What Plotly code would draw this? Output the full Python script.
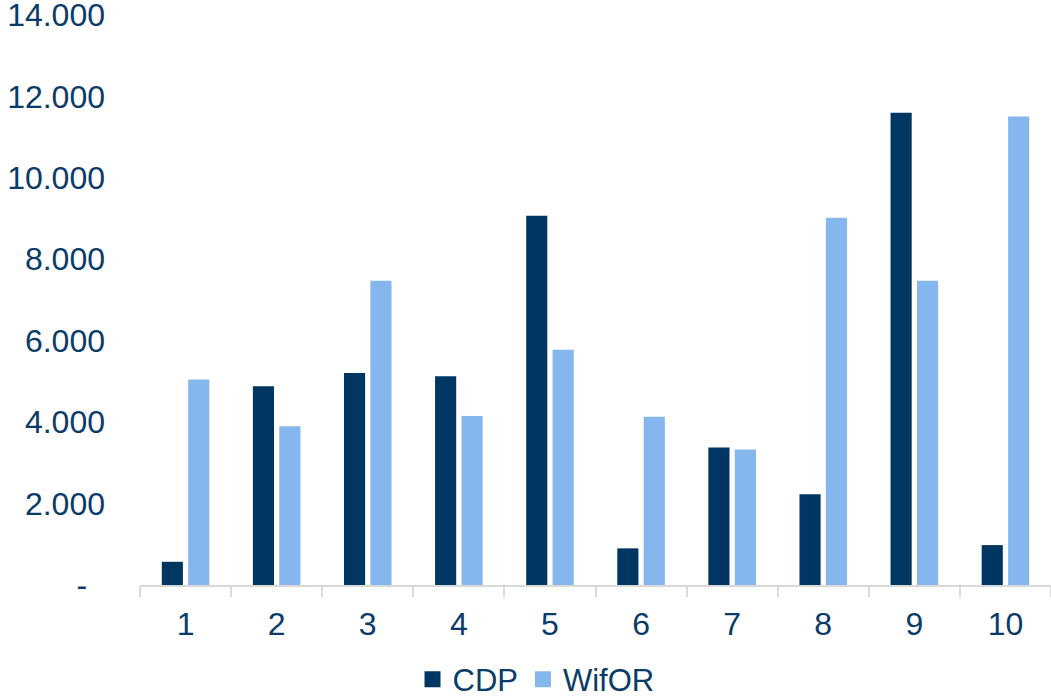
import plotly.graph_objects as go

# Category labels and series values
categories = ["1", "2", "3", "4", "5", "6", "7", "8", "9", "10"]
cdp = [570, 4880, 5210, 5130, 9070, 900, 3380, 2230, 11600, 980]
wifor = [5050, 3900, 7470, 4150, 5780, 4130, 3330, 9020, 7470, 11510]

y_ticks = [0, 2000, 4000, 6000, 8000, 10000, 12000, 14000]
y_tick_text = ["-\u00a0\u00a0", "2.000", "4.000", "6.000", "8.000", "10.000", "12.000", "14.000"]

DARK = "#003662"
LIGHT = "#85B6ED"
TEXT = "#0B3B68"
FONT = "Arial, Liberation Sans, sans-serif"

fig = go.Figure()
fig.add_trace(go.Bar(x=categories, y=cdp, name="CDP", marker_color=DARK,
                     marker_line_width=0, showlegend=False))
fig.add_trace(go.Bar(x=categories, y=wifor, name="WifOR", marker_color=LIGHT,
                     marker_line_width=0, showlegend=False))

# Legend entries with larger square swatches
for name, col in [("CDP", DARK), ("WifOR", LIGHT)]:
    fig.add_trace(go.Scatter(x=[None], y=[None], mode="markers", name=name,
                             marker=dict(symbol="square", size=17, color=col)))

fig.update_layout(
    width=1051, height=697,
    margin=dict(l=140, r=0, t=15, b=112, autoexpand=False),
    paper_bgcolor="white", plot_bgcolor="white",
    barmode="group", bargap=0.42, bargroupgap=0.2,
    font=dict(family=FONT, size=32, color=TEXT),
    legend=dict(orientation="h", xref="container", yref="paper",
                x=0.51, xanchor="center", y=-0.166, yanchor="middle",
                font=dict(size=31, color=TEXT), itemwidth=30,
                tracegroupgap=0, borderwidth=0,
                bgcolor="rgba(0,0,0,0)"),
)
fig.update_xaxes(
    type="category", showgrid=False, showline=True, linecolor="#D9D9D9",
    linewidth=2, ticks="outside", tickson="boundaries", ticklen=10,
    tickcolor="#D9D9D9", tickwidth=2, ticklabelstandoff=10,
    tickfont=dict(size=32, color=TEXT), automargin=False,
)
fig.update_yaxes(
    range=[0, 14000], tickvals=y_ticks, ticktext=y_tick_text,
    showgrid=False, showline=False, zeroline=False, ticks="",
    ticklabelstandoff=34, ticklabeloverflow="allow", automargin=False,
    tickfont=dict(size=32, color=TEXT),
)

fig.write_html("out.html")
